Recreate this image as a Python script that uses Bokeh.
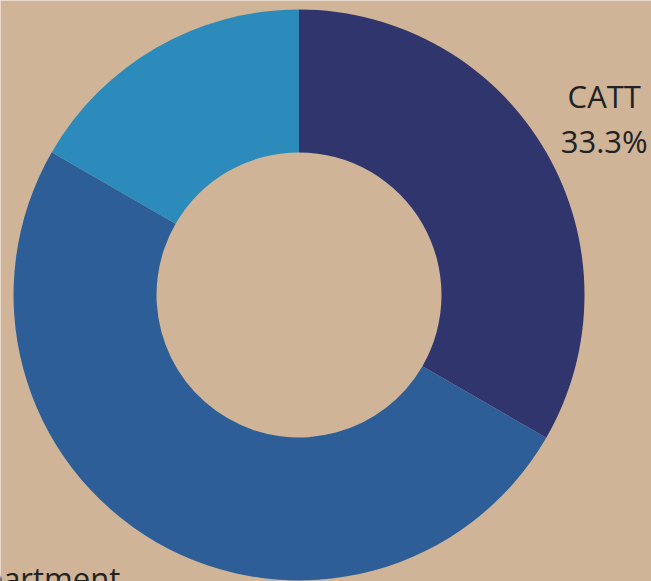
import numpy as np
from bokeh.plotting import figure
from bokeh.models import Range1d, ColumnDataSource
from bokeh.core.properties import value
from bokeh.embed import file_html
from bokeh.resources import INLINE

# ---- data ----
categories = ["CATT", "Department", "Other"]
values = [2, 3, 1]
colors = ["#31356E", "#2D5E97", "#2C8BBA"]

W, H = 651, 581
BG = "#CFB497"

# geometry (styles)
cx, cy = 298.5, H - 294.5
r_out, r_in = 285.5, 142.5

vals = np.array(values, dtype=float)
frac = vals / vals.sum()
cum = np.concatenate([[0.0], np.cumsum(frac)])
start = np.pi / 2 - cum[:-1] * 2 * np.pi
end = np.pi / 2 - cum[1:] * 2 * np.pi
mid = (start + end) / 2

src = ColumnDataSource(dict(cat=categories, start=start, end=end, color=colors))

p = figure(width=W, height=H, output_backend="svg", toolbar_location=None,
           x_range=Range1d(0, W), y_range=Range1d(0, H), min_border=0)
p.axis.visible = False
p.grid.visible = False
p.outline_line_color = None
p.background_fill_color = BG
p.border_fill_color = BG

p.annular_wedge(x=cx, y=cy, inner_radius=r_in, outer_radius=r_out,
                start_angle="start", end_angle="end", direction="clock",
                fill_color="color", line_color=None, source=src)

# labels: anchored to the outer edge at each slice's mid angle
edge_x = cx + r_out * np.cos(mid)
edge_y = cy + r_out * np.sin(mid)
pct = [f"{f*100:.1f}%" for f in frac]

font = value("Open Sans")
fs = "31px"
tc = "#222222"

# CATT (right side, centered lines)
i = 0
p.text(x=[edge_x[i], edge_x[i]], y=[edge_y[i], edge_y[i]],
       x_offset=58, y_offset=[-56, -11],
       text=[categories[i], pct[i]], text_font=font, text_font_size=fs,
       text_color=tc, text_align="center", text_baseline="alphabetic")

# Department (left side, right aligned; the rest falls below the page)
i = 1
p.text(x=[edge_x[i]], y=[edge_y[i]], x_offset=-36, y_offset=36,
       text=[categories[i]], text_font=font, text_font_size=fs,
       text_color=tc, text_align="right", text_baseline="alphabetic")

open("out.html", "w").write(file_html(p, INLINE))
